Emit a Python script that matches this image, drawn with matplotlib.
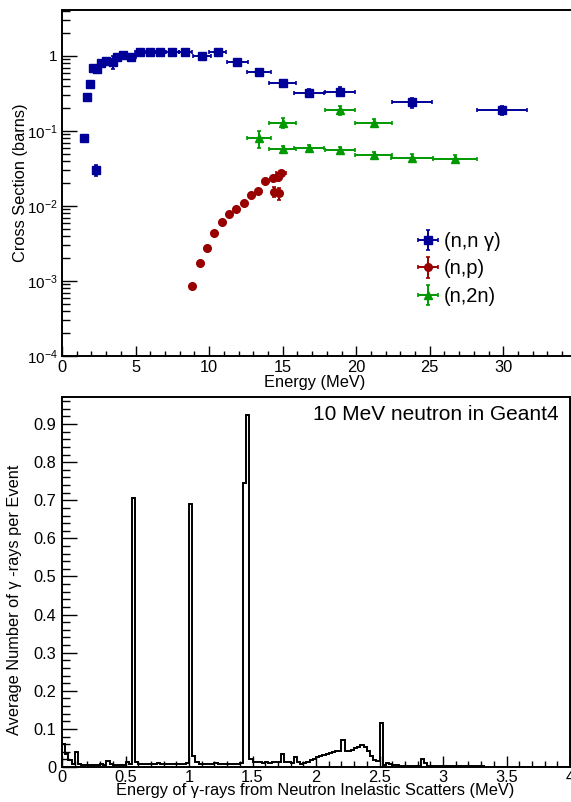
import matplotlib
matplotlib.use("Agg")
import matplotlib.pyplot as plt
from matplotlib.ticker import MultipleLocator, LogLocator, FixedLocator, FuncFormatter, NullFormatter
import numpy as np

plt.rcParams['font.family'] = ['Liberation Sans', 'DejaVu Sans']
plt.rcParams['mathtext.fontset'] = 'custom'
plt.rcParams['mathtext.rm'] = 'Liberation Sans'
plt.rcParams['mathtext.it'] = 'Liberation Sans:italic'

# ---------------- data: top panel (cross sections) ----------------
nng_x = [1.47, 1.68, 1.88, 2.09, 2.29, 2.38, 2.67, 2.97, 3.44, 3.76, 4.17, 4.69, 5.28, 5.98, 6.68, 7.5, 8.38, 9.5, 10.58, 11.9, 13.39, 15.0, 16.79, 18.9, 23.79, 29.91]
nng_y = [0.081, 0.28, 0.42, 0.70, 0.030, 0.665, 0.80, 0.865, 0.84, 0.98, 1.02, 0.98, 1.12, 1.12, 1.12, 1.12, 1.12, 1.01, 1.12, 0.84, 0.61, 0.43, 0.325, 0.335, 0.24, 0.19]
nng_xerr = [0, 0, 0, 0, 0, 0, 0.1, 0.15, 0.28, 0.1, 0.15, 0.32, 0.3, 0.35, 0.35, 0.42, 0.45, 0.62, 0.6, 0.71, 0.82, 0.93, 1.02, 1.03, 1.33, 1.71]
nng_yerr = [0.008, 0.025, 0.03, 0.06, 0.005, 0.05, 0.05, 0.05, 0.17, 0.05, 0.05, 0.06, 0.06, 0.06, 0.06, 0.06, 0.06, 0.06, 0.06, 0.05, 0.05, 0.04, 0.035, 0.045, 0.035, 0.025]

np_x = [8.86, 9.36, 9.86, 10.36, 10.86, 11.35, 11.85, 12.35, 12.83, 13.32, 13.82, 14.32, 14.41, 14.66, 14.77, 14.87]
np_y = [8.7e-4, 1.74e-3, 2.73e-3, 4.33e-3, 6.1e-3, 7.8e-3, 9.0e-3, 1.1e-2, 1.42e-2, 1.57e-2, 2.17e-2, 2.38e-2, 1.55e-2, 2.44e-2, 1.47e-2, 2.73e-2]
np_xerr = [0, 0, 0, 0, 0, 0, 0, 0, 0, 0, 0, 0.1, 0, 0, 0, 0.34]
np_yerr = [4e-5, 8e-5, 1.2e-4, 2e-4, 2.5e-4, 3e-4, 3.5e-4, 4e-4, 6e-4, 6e-4, 8e-4, 9e-4, 2.5e-3, 1e-3, 2.5e-3, 1.2e-3]

n2n_x = [13.37, 15.0, 15.0, 16.79, 18.9, 18.9, 21.19, 21.19, 23.77, 26.72]
n2n_y = [0.080, 0.129, 0.0575, 0.060, 0.19, 0.056, 0.129, 0.048, 0.0437, 0.0422]
n2n_xerr = [0.82, 0.93, 0.93, 1.02, 1.03, 1.03, 1.25, 1.25, 1.42, 1.48]
n2n_yerr = [0.02, 0.018, 0.006, 0.006, 0.025, 0.006, 0.015, 0.005, 0.005, 0.005]

series_labels = ["(n,n γ)", "(n,p)", "(n,2n)"]
top_yticks = [1e-4, 1e-3, 1e-2, 1e-1, 1]

# ---------------- data: bottom panel (histogram) ----------------
bin_edges_lo = 0.0
bin_edges_hi = 4.0
hist_vals = [
    0.060, 0.035, 0.018, 0.008, 0.040, 0.008, 0.006, 0.006, 0.006, 0.006,
    0.006, 0.006, 0.007, 0.006, 0.015, 0.007, 0.006, 0.006, 0.006, 0.006,
    0.012, 0.007, 0.705, 0.012, 0.008, 0.007, 0.007, 0.007, 0.007, 0.008,
    0.010, 0.007, 0.007, 0.007, 0.007, 0.007, 0.007, 0.008, 0.009, 0.010,
    0.690, 0.030, 0.012, 0.009, 0.008, 0.008, 0.009, 0.008, 0.010, 0.008,
    0.008, 0.008, 0.009, 0.008, 0.008, 0.009, 0.010, 0.745, 0.925, 0.020,
    0.014, 0.012, 0.012, 0.011, 0.012, 0.011, 0.012, 0.012, 0.012, 0.035,
    0.012, 0.012, 0.011, 0.025, 0.012, 0.009, 0.010, 0.013, 0.018, 0.022,
    0.025, 0.028, 0.031, 0.034, 0.037, 0.040, 0.042, 0.043, 0.072, 0.043,
    0.043, 0.045, 0.050, 0.053, 0.057, 0.052, 0.042, 0.028, 0.018, 0.016,
    0.115, 0.005, 0.010, 0.008, 0.005, 0.004, 0.003, 0.003, 0.003, 0.003,
    0.003, 0.003, 0.003, 0.022, 0.010, 0.003, 0.002, 0.002, 0.002, 0.002,
    0.002, 0.002, 0.002, 0.002, 0.002, 0.002, 0.002, 0.002, 0.002, 0.002,
    0.002, 0.002, 0.002, 0.001, 0.001, 0.001, 0.001, 0.001, 0.001, 0.001,
    0.001, 0.001, 0.001, 0.001, 0.001, 0.001, 0.001, 0.001, 0.001, 0.001,
    0.001, 0.001, 0.001, 0.001, 0.001, 0.001, 0.001, 0.001, 0.001, 0.001,
]
annotation = "10 MeV neutron in Geant4"

W, H = 571, 802
fig = plt.figure(figsize=(W / 100, H / 100), dpi=100)

def px_axes(l, t, r, b):
    return fig.add_axes([l / W, 1 - b / H, (r - l) / W, (b - t) / H])

BLUE = '#000099'
RED = '#990000'
GREEN = '#009900'
FS = 11.8

# ---------- top ----------
ax1 = px_axes(62, 10, 571, 356)
ax1.set_yscale('log')
ax1.set_xlim(0, 34.6)
ax1.set_ylim(1e-4, 4.1)

kw = dict(linestyle='none', capsize=1.6, elinewidth=1.4, capthick=1.2, markersize=5.5)
h1 = ax1.errorbar(nng_x, nng_y, xerr=nng_xerr, yerr=nng_yerr, fmt='s', color=BLUE, **kw)
h2 = ax1.errorbar(np_x, np_y, xerr=np_xerr, yerr=np_yerr, fmt='o', color=RED, **kw)
h3 = ax1.errorbar(n2n_x, n2n_y, xerr=n2n_xerr, yerr=n2n_yerr, fmt='^', color=GREEN, **kw)

ax1.xaxis.set_major_locator(MultipleLocator(5))
ax1.xaxis.set_minor_locator(MultipleLocator(1))
ax1.yaxis.set_major_locator(FixedLocator(top_yticks))
ax1.yaxis.set_minor_locator(LogLocator(base=10, subs=np.arange(2, 10)))
ax1.yaxis.set_minor_formatter(NullFormatter())

def logfmt(v, pos):
    e = int(round(np.log10(v)))
    return "1" if e == 0 else r"$10^{%d}$" % e
ax1.yaxis.set_major_formatter(FuncFormatter(logfmt))

ax1.tick_params(axis='x', which='major', direction='in', length=7.2, width=1.0, labelsize=FS, pad=3)
ax1.tick_params(axis='x', which='minor', direction='in', length=3.6, width=1.0)
ax1.tick_params(axis='y', which='major', direction='in', length=10.8, width=1.0, labelsize=11, pad=3)
ax1.tick_params(axis='y', which='minor', direction='in', length=5.4, width=1.0)
for s in ax1.spines.values():
    s.set_linewidth(1.4)
ax1.spines['right'].set_visible(False)

ax1.set_xlabel("Energy (MeV)", fontsize=FS)
ax1.xaxis.set_label_coords((315 - 62) / 509, -(382 - 356) / 346)
ax1.xaxis.label.set_va('center')
ax1.set_ylabel("Cross Section (barns)", fontsize=FS, va='center')
ax1.yaxis.set_label_coords(-(62 - 21) / 509, 0.5)

leg = ax1.legend([h1, h2, h3], series_labels, loc='upper left',
                 bbox_to_anchor=(413 / W, 1 - 228 / H), bbox_transform=fig.transFigure,
                 frameon=False, fontsize=14.5, handlelength=1.1, handletextpad=0.25,
                 labelspacing=0.42, borderpad=0.2, borderaxespad=0)

# ---------- bottom ----------
ax2 = px_axes(62, 397, 570, 767)
edges = np.linspace(bin_edges_lo, bin_edges_hi, len(hist_vals) + 1)
ax2.stairs(hist_vals, edges, color='black', linewidth=1.4, baseline=0)
ax2.set_xlim(0, 4)
ax2.set_ylim(0, 0.971)
ax2.xaxis.set_major_locator(MultipleLocator(0.5))
ax2.xaxis.set_minor_locator(MultipleLocator(0.1))
ax2.yaxis.set_major_locator(MultipleLocator(0.1))
ax2.yaxis.set_minor_locator(MultipleLocator(0.02))
ax2.xaxis.set_major_formatter(FuncFormatter(lambda v, p: "%g" % round(v, 2)))
ax2.yaxis.set_major_formatter(FuncFormatter(lambda v, p: "%g" % round(v, 2)))
ax2.tick_params(axis='x', which='major', direction='in', length=8, width=1.0, labelsize=FS, pad=2)
ax2.tick_params(axis='x', which='minor', direction='in', length=4, width=1.0)
ax2.tick_params(axis='y', which='major', direction='in', length=10.8, width=1.0, labelsize=FS, pad=4)
ax2.tick_params(axis='y', which='minor', direction='in', length=5.4, width=1.0)
for s in ax2.spines.values():
    s.set_linewidth(1.4)

ax2.set_xlabel("Energy of γ-rays from Neutron Inelastic Scatters (MeV)", fontsize=FS)
ax2.xaxis.set_label_coords((315 - 62) / 508, -(791 - 767) / 370)
ax2.xaxis.label.set_va('center')
ax2.set_ylabel("Average Number of γ -rays per Event", fontsize=FS, va='center')
ax2.yaxis.set_label_coords(-(62 - 15) / 508, (767 - 600) / 370)

ax2.text((436 - 62) / 508, (767 - 415) / 370, annotation, transform=ax2.transAxes,
         ha='center', va='center', fontsize=15)

fig.savefig("out.png", dpi=100)
